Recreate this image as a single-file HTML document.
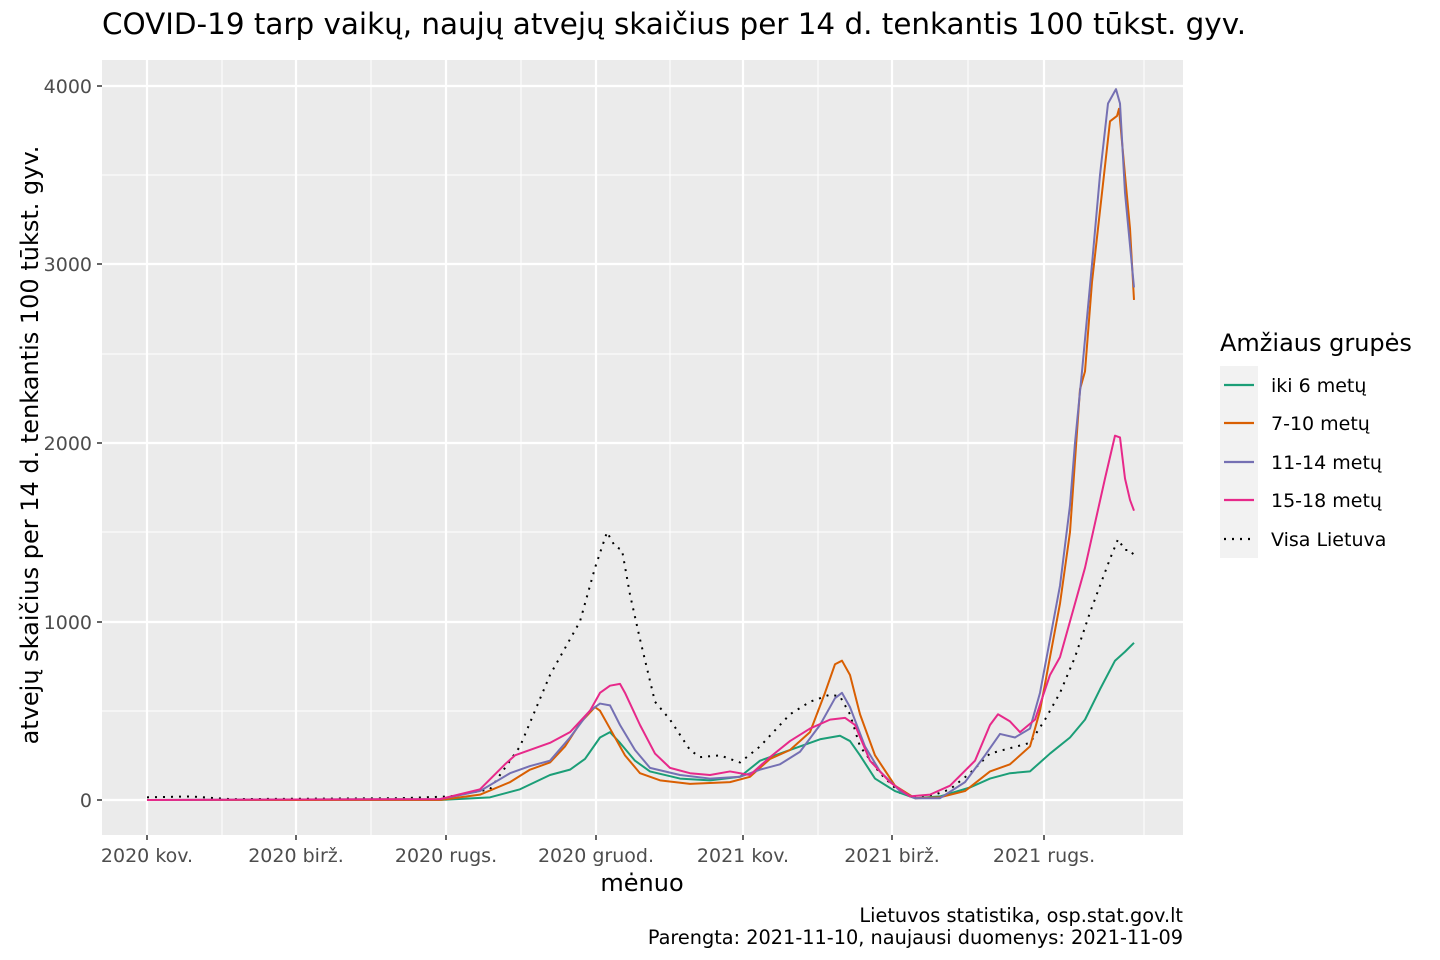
<!DOCTYPE html>
<html><head><meta charset="utf-8"><style>
html,body{margin:0;padding:0;background:#fff;}
svg{display:block;font-family:"DejaVu Sans","Liberation Sans",sans-serif;}
</style></head><body>
<svg width="1440" height="960" viewBox="0 0 1440 960" xmlns="http://www.w3.org/2000/svg">
<rect width="1440" height="960" fill="#fff"/>
<text x="102" y="34" font-size="29.4" fill="#000">COVID-19 tarp vaikų, naujų atvejų skaičius per 14 d. tenkantis 100 tūkst. gyv.</text>
<rect x="102" y="60" width="1081" height="775" fill="#ebebeb"/>
<g stroke="#fff" stroke-width="1">
<line x1="102" x2="1183" y1="711" y2="711"/><line x1="102" x2="1183" y1="532" y2="532"/>
<line x1="102" x2="1183" y1="354" y2="354"/><line x1="102" x2="1183" y1="175" y2="175"/>
<line y1="60" y2="835" x1="222" x2="222"/><line y1="60" y2="835" x1="371" x2="371"/>
<line y1="60" y2="835" x1="521" x2="521"/><line y1="60" y2="835" x1="670" x2="670"/>
<line y1="60" y2="835" x1="818" x2="818"/><line y1="60" y2="835" x1="968" x2="968"/>
<line y1="60" y2="835" x1="1144" x2="1144"/>
</g>
<g stroke="#fff" stroke-width="2.2">
<line x1="102" x2="1183" y1="800" y2="800"/><line x1="102" x2="1183" y1="622" y2="622"/>
<line x1="102" x2="1183" y1="443" y2="443"/><line x1="102" x2="1183" y1="264" y2="264"/>
<line x1="102" x2="1183" y1="86" y2="86"/>
<line y1="60" y2="835" x1="147" x2="147"/><line y1="60" y2="835" x1="296" x2="296"/>
<line y1="60" y2="835" x1="446" x2="446"/><line y1="60" y2="835" x1="596" x2="596"/>
<line y1="60" y2="835" x1="743" x2="743"/><line y1="60" y2="835" x1="892" x2="892"/>
<line y1="60" y2="835" x1="1044" x2="1044"/>
</g>
<g font-size="19" fill="#4d4d4d" text-anchor="end">
<text x="92" y="807">0</text><text x="92" y="629">1000</text><text x="92" y="450">2000</text>
<text x="92" y="271">3000</text><text x="92" y="93">4000</text>
</g>
<g stroke="#333" stroke-width="1.5">
<line x1="97" x2="102" y1="800" y2="800"/><line x1="97" x2="102" y1="622" y2="622"/>
<line x1="97" x2="102" y1="443" y2="443"/><line x1="97" x2="102" y1="264" y2="264"/><line x1="97" x2="102" y1="86" y2="86"/>
<line y1="835" y2="840" x1="147" x2="147"/><line y1="835" y2="840" x1="296" x2="296"/><line y1="835" y2="840" x1="446" x2="446"/>
<line y1="835" y2="840" x1="596" x2="596"/><line y1="835" y2="840" x1="743" x2="743"/><line y1="835" y2="840" x1="892" x2="892"/>
<line y1="835" y2="840" x1="1044" x2="1044"/>
</g>
<g font-size="19" fill="#4d4d4d" text-anchor="middle">
<text x="147" y="862">2020 kov.</text><text x="296" y="862">2020 birž.</text><text x="446" y="862">2020 rugs.</text>
<text x="596" y="862">2020 gruod.</text><text x="743" y="862">2021 kov.</text><text x="892" y="862">2021 birž.</text>
<text x="1044" y="862">2021 rugs.</text>
</g>
<text x="642" y="891" font-size="24" text-anchor="middle">mėnuo</text>
<text transform="translate(38,445) rotate(-90)" font-size="24" text-anchor="middle">atvejų skaičius per 14 d. tenkantis 100 tūkst. gyv.</text>
<g transform="translate(0,800) scale(1,-0.1786)" fill="none" stroke-width="2" stroke-linejoin="round">
<polyline vector-effect="non-scaling-stroke" stroke="#000" stroke-dasharray="2,6" points="147,15 190,20 230,5 400,10 450,20 490,60 520,300 550,700 580,1000 595,1300 607,1500 615,1420 622,1400 630,1150 640,900 655,550 670,450 690,280 700,240 720,250 740,210 760,300 790,480 810,550 830,590 840,580 850,480 860,300 880,150 900,40 915,15 935,30 950,60 970,150 990,260 1010,290 1030,320 1045,450 1060,600 1075,800 1090,1050 1100,1200 1110,1350 1118,1460 1125,1400 1130,1400 1134,1370"/>
<polyline vector-effect="non-scaling-stroke" stroke="#1b9e77" points="147,0 440,0 490,15 520,60 550,140 570,170 585,230 600,350 610,380 620,320 635,220 650,160 680,120 710,110 740,130 760,220 780,260 800,300 820,340 840,360 850,330 860,250 875,120 895,50 915,10 940,20 970,70 990,120 1010,150 1030,160 1050,260 1070,350 1085,450 1100,620 1115,780 1125,830 1134,880"/>
<polyline vector-effect="non-scaling-stroke" stroke="#d95f02" points="147,0 440,0 480,30 510,100 530,170 550,210 565,300 580,430 595,520 600,500 610,400 625,250 640,150 660,110 690,90 730,100 750,130 770,230 790,280 810,380 825,600 835,760 842,780 850,700 860,480 875,250 895,80 915,10 940,15 965,50 990,160 1010,200 1030,300 1040,500 1045,650 1060,1100 1070,1500 1080,2300 1085,2400 1092,2900 1102,3400 1110,3800 1117,3830 1119,3870 1125,3500 1130,3200 1134,2800"/>
<polyline vector-effect="non-scaling-stroke" stroke="#7570b3" points="147,0 440,5 480,50 510,150 530,190 550,220 570,350 590,500 600,540 610,530 620,420 635,280 650,180 680,140 710,120 740,130 760,170 780,200 800,270 820,420 835,570 842,600 850,520 865,300 880,160 900,50 915,10 940,10 965,100 985,250 1000,370 1015,350 1030,400 1040,600 1050,900 1060,1200 1070,1650 1075,2000 1082,2400 1092,3000 1100,3500 1108,3900 1116,3980 1120,3900 1125,3400 1134,2870"/>
<polyline vector-effect="non-scaling-stroke" stroke="#e7298a" points="147,0 440,5 480,60 505,200 515,250 530,280 550,320 570,380 590,500 600,600 610,640 620,650 625,600 640,420 655,260 670,180 690,150 710,140 730,160 750,140 770,240 790,330 810,400 830,450 845,460 855,420 870,220 890,100 910,20 930,30 950,80 975,220 990,420 998,480 1010,440 1020,380 1035,450 1050,700 1060,800 1070,1000 1085,1300 1095,1550 1105,1800 1115,2040 1120,2030 1125,1800 1130,1680 1134,1620"/>
</g>
<text x="1220" y="351" font-size="24">Amžiaus grupės</text>
<rect x="1220" y="366" width="38" height="192" fill="#f2f2f2"/>
<g stroke-width="2.2">
<line x1="1224" x2="1254" y1="385" y2="385" stroke="#1b9e77"/>
<line x1="1224" x2="1254" y1="423" y2="423" stroke="#d95f02"/>
<line x1="1224" x2="1254" y1="462" y2="462" stroke="#7570b3"/>
<line x1="1224" x2="1254" y1="500" y2="500" stroke="#e7298a"/>
<line x1="1224" x2="1254" y1="539" y2="539" stroke="#000" stroke-dasharray="2,6"/>
</g>
<g font-size="19" fill="#000">
<text x="1271" y="392">iki 6 metų</text><text x="1271" y="430">7-10 metų</text>
<text x="1271" y="469">11-14 metų</text><text x="1271" y="507">15-18 metų</text><text x="1271" y="546">Visa Lietuva</text>
</g>
<g font-size="19.3" text-anchor="end" fill="#000">
<text x="1183" y="922">Lietuvos statistika, osp.stat.gov.lt</text>
<text x="1183" y="944">Parengta: 2021-11-10, naujausi duomenys: 2021-11-09</text>
</g>
</svg>
</body></html>
